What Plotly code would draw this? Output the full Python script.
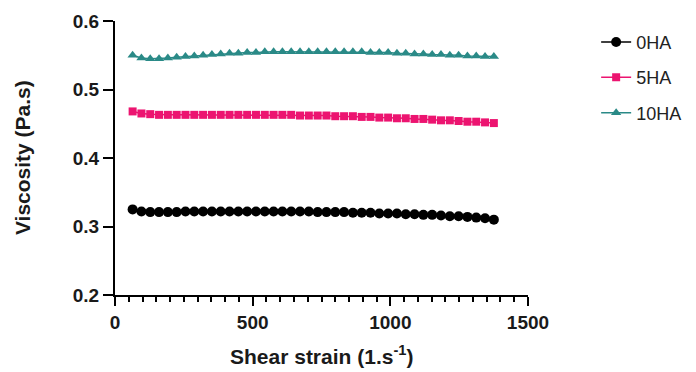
import plotly.graph_objects as go

shear = [64, 96, 128, 160, 192, 224, 256, 288, 320, 352, 384, 416, 448, 480,
         512, 544, 576, 608, 640, 672, 704, 736, 768, 800, 832, 864, 896, 928,
         960, 992, 1024, 1056, 1088, 1120, 1152, 1184, 1216, 1248, 1280, 1312,
         1344, 1376]

visc_0ha = [0.325, 0.322, 0.321, 0.321, 0.321, 0.321, 0.322, 0.322, 0.322, 0.322,
            0.322, 0.322, 0.322, 0.322, 0.322, 0.322, 0.322, 0.322, 0.322, 0.322,
            0.322, 0.321, 0.321, 0.321, 0.321, 0.320, 0.320, 0.320, 0.319, 0.319,
            0.319, 0.318, 0.318, 0.317, 0.317, 0.316, 0.315, 0.315, 0.314, 0.313,
            0.312, 0.310]

visc_5ha = [0.468, 0.465, 0.464, 0.463, 0.463, 0.463, 0.463, 0.463, 0.463, 0.463,
            0.463, 0.463, 0.463, 0.463, 0.463, 0.463, 0.463, 0.463, 0.463, 0.462,
            0.462, 0.462, 0.462, 0.461, 0.461, 0.461, 0.460, 0.460, 0.459, 0.459,
            0.458, 0.458, 0.457, 0.457, 0.456, 0.455, 0.455, 0.454, 0.453, 0.453,
            0.452, 0.451]

visc_10ha = [0.550, 0.546, 0.545, 0.545, 0.546, 0.547, 0.548, 0.549, 0.550, 0.551,
             0.552, 0.553, 0.553, 0.554, 0.554, 0.555, 0.555, 0.555, 0.555, 0.555,
             0.555, 0.555, 0.555, 0.555, 0.555, 0.555, 0.555, 0.554, 0.554, 0.554,
             0.553, 0.553, 0.552, 0.552, 0.551, 0.551, 0.550, 0.550, 0.549, 0.549,
             0.548, 0.548]

series_names = ["0HA", "5HA", "10HA"]
x_ticks = [0, 500, 1000, 1500]
x_labels = ["0", "500", "1000", "1500"]
y_ticks = [0.2, 0.3, 0.4, 0.5, 0.6]
y_labels = ["0.2", "0.3", "0.4", "0.5", "0.6"]
x_title = "Shear strain (1.s<sup>-1</sup>)"
y_title = "Viscosity (Pa.s)"

colors = ["#000000", "#EC1470", "#2A8A87"]
symbols = ["circle", "square", "triangle-up"]
sizes = [10, 8, 9]

FONT = "Liberation Sans, Arial, sans-serif"

fig = go.Figure()
for i, (name, ys) in enumerate(zip(series_names, [visc_0ha, visc_5ha, visc_10ha])):
    fig.add_trace(go.Scatter(
        x=shear, y=ys, name=name, mode="lines+markers",
        line=dict(color=colors[i], width=1.5),
        marker=dict(symbol=symbols[i], size=sizes[i], color=colors[i]),
        legendgroup=name,
    ))

tickfont = dict(family=FONT, size=19, color="#1a1a1a")
fig.update_layout(
    width=688, height=364,
    margin=dict(l=107, r=168, t=13, b=77, autoexpand=False),
    paper_bgcolor="white", plot_bgcolor="white",
    font=dict(family=FONT, color="#000"),
    showlegend=True,
    legend=dict(x=1.165, y=0.99, xanchor="left", yanchor="top",
                font=dict(size=18, color="#222"), tracegroupgap=9,
                bgcolor="rgba(0,0,0,0)"),
    xaxis=dict(range=[0, 1500], tickvals=x_ticks,
               ticktext=["<b>%s</b>" % t for t in x_labels],
               ticks="outside", ticklen=9, tickwidth=2, tickcolor="#000",
               showline=True, linewidth=2, linecolor="#000", showgrid=False,
               zeroline=False, automargin=False, tickfont=tickfont,
               minor=dict(dtick=50, ticks="outside", ticklen=5, tickwidth=2,
                          tickcolor="#000", showgrid=False)),
    yaxis=dict(range=[0.2, 0.6], tickvals=y_ticks,
               ticktext=["<b>%s</b>" % t for t in y_labels],
               ticks="outside", ticklen=10, tickwidth=2, tickcolor="#000",
               showline=True, linewidth=2, linecolor="#000", showgrid=False,
               zeroline=False, automargin=False, tickfont=tickfont),
    annotations=[
        dict(text="<b>%s</b>" % x_title, xref="paper", yref="paper",
             x=0.5, y=-0.22, xanchor="center", yanchor="middle",
             showarrow=False, font=dict(family=FONT, size=21, color="#1a1a1a")),
        dict(text="<b>%s</b>" % y_title, xref="paper", yref="paper",
             x=-0.225, y=0.5, xanchor="center", yanchor="middle", textangle=-90,
             showarrow=False, font=dict(family=FONT, size=21, color="#1a1a1a")),
    ],
)

fig.write_html("out.html")
